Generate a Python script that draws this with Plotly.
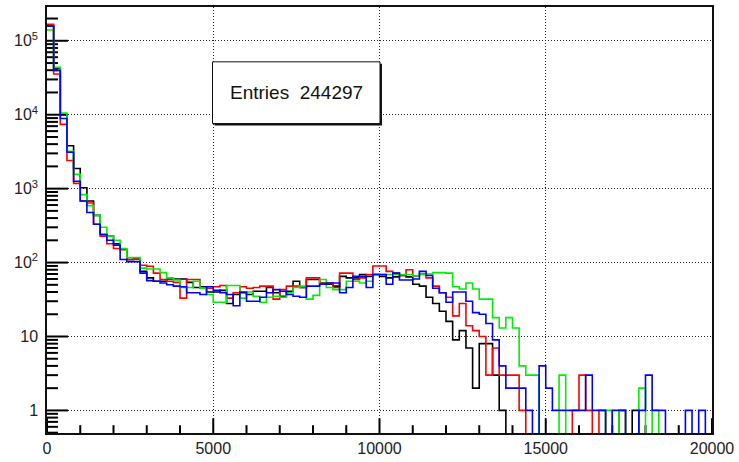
import numpy as np
import plotly.graph_objects as go

# Bin edges: 100 bins of width 200 from 0 to 20000
bin_edges = list(range(0, 20001, 200))

black_counts = [160000, 42000, 10000, 3800, 1870, 1030, 680, 435, 240, 228,
                180, 150, 110, 112, 76, 62, 56, 56, 60, 60,
                60, 54, 46, 47, 40, 40, 42, 28, 37, 39,
                37, 41, 41, 46, 39, 35, 41, 56, 46, 59,
                59, 53, 51, 48, 65, 62, 62, 69, 65, 69,
                65, 62, 64, 67, 64, 51, 48, 34, 28, 22,
                16, 9, 12, 7, 2, 8, 8, 3, 1, 0,
                0, 0, 0, 0, 0, 0, 0, 0, 0, 0,
                0, 0, 0, 0, 0, 0, 0, 0, 1, 0,
                0, 0, 0, 0, 0, 0, 0, 0, 0, 0]

red_counts = [167000, 35600, 7400, 2400, 1180, 680, 640, 330, 228, 180,
              155, 150, 110, 112, 92, 89, 72, 59, 56, 54,
              33, 59, 59, 45, 45, 47, 49, 33, 39, 47,
              45, 46, 48, 48, 32, 43, 48, 48, 46, 62,
              62, 53, 53, 46, 72, 72, 59, 62, 69, 90,
              90, 76, 72, 67, 80, 66, 70, 62, 48, 39,
              34, 19, 28, 14, 12, 10, 3, 7, 3, 3,
              3, 1, 0, 0, 0, 0, 0, 0, 0, 1,
              3, 1, 0, 1, 0, 0, 1, 0, 0, 0,
              0, 0, 0, 0, 0, 0, 0, 0, 0, 0]

green_counts = [140000, 43700, 10500, 3200, 1560, 830, 590, 435, 300, 228,
                200, 155, 117, 117, 84, 82, 82, 73, 62, 58,
                46, 46, 56, 45, 37, 29, 29, 49, 49, 33,
                40, 35, 29, 34, 35, 34, 39, 46, 48, 32,
                36, 59, 46, 43, 43, 56, 56, 53, 56, 69,
                69, 69, 69, 69, 69, 66, 69, 70, 73, 73,
                72, 47, 44, 53, 44, 32, 32, 18, 13, 18,
                13, 4, 3, 3, 0, 0, 0, 3, 0, 0,
                0, 0, 0, 0, 1, 0, 1, 0, 0, 2,
                0, 1, 0, 0, 0, 0, 0, 0, 0, 0]

blue_counts = [158000, 39700, 8900, 3100, 1260, 680, 475, 330, 240, 200,
               172, 110, 103, 103, 72, 57, 56, 53, 50, 48,
               47, 39, 39, 37, 47, 42, 39, 37, 26, 40,
               30, 30, 34, 39, 43, 41, 37, 35, 34, 48,
               48, 51, 53, 53, 39, 46, 65, 65, 46, 69,
               69, 51, 72, 58, 58, 60, 76, 67, 45, 39,
               29, 40, 40, 30, 21, 20, 15, 9, 4, 2,
               2, 2, 1, 0, 4, 2, 1, 1, 1, 1,
               1, 3, 1, 1, 0, 1, 1, 0, 0, 1,
               3, 1, 1, 0, 0, 0, 1, 0, 1, 0]

x_tickvals = [0, 5000, 10000, 15000, 20000]
x_ticktext = ["0", "5000", "10000", "15000", "20000"]
y_tickvals = [1, 10, 100, 1000, 10000, 100000]
y_ticktext = ["1", "10", "10<sup>2</sup>", "10<sup>3</sup>", "10<sup>4</sup>", "10<sup>5</sup>"]
entries_text = "Entries  244297"

W, H = 739, 462
L, R, T, B = 47, 25, 5, 22
pw, ph = W - L - R, H - T - B
Y_MIN, Y_MAX = np.log10(0.495), 5.457
X_MIN, X_MAX = 0, 20000

fig = go.Figure()

# ---- inside tick marks built from the axis scales ----
tx, ty = [], []
dec_per_px = (Y_MAX - Y_MIN) / ph
xu_per_px = (X_MAX - X_MIN) / pw
y_bottom = 10 ** Y_MIN
for xv in range(0, 20001, 1000):
    ln = 15 if xv % 5000 == 0 else 8
    tx += [float(xv), float(xv), None]
    ty += [float(y_bottom), float(10 ** (Y_MIN + ln * dec_per_px)), None]
for n in range(-1, 6):
    for k in range(1, 10):
        val = k * 10.0 ** n
        if not (Y_MIN <= np.log10(val) <= Y_MAX):
            continue
        ln = 21 if k == 1 else 11
        tx += [float(X_MIN), float(X_MIN + ln * xu_per_px), None]
        ty += [float(val), float(val), None]
fig.add_trace(go.Scatter(x=tx, y=ty, mode="lines", line=dict(color="#000000", width=2),
                         showlegend=False, hoverinfo="skip", connectgaps=False,
                         cliponaxis=False))

series = [("black", black_counts, "#000000"),
          ("red", red_counts, "#ff0000"),
          ("green", green_counts, "#00ee00"),
          ("blue", blue_counts, "#0000ff")]

for name, vals, col in series:
    v = np.array(vals, dtype=float)
    v = np.where(v > 0, v, 0.05)  # empty bins drop below the visible range
    y = list(v) + [v[-1]]
    fig.add_trace(go.Scatter(x=bin_edges, y=y, mode="lines", line_shape="hv",
                             line=dict(color=col, width=1.6), name=name,
                             showlegend=False, hoverinfo="skip"))

fig.update_layout(
    width=W, height=H,
    margin=dict(l=L, r=R, t=T, b=B, pad=0),
    paper_bgcolor="white", plot_bgcolor="white",
    font=dict(family="Liberation Sans, Arial, sans-serif", size=16, color="#111"),
    showlegend=False,
)

fig.update_xaxes(
    range=[X_MIN, X_MAX],
    tickmode="array", tickvals=x_tickvals, ticktext=x_ticktext,
    ticks="",
    showline=True, linecolor="#111", linewidth=1.5, mirror=True,
    showgrid=True, gridcolor="#222", griddash="1px,2px", gridwidth=1,
    zeroline=False, tickfont=dict(size=16, color="#222"),
)

fig.update_yaxes(
    type="log",
    range=[Y_MIN, Y_MAX],
    tickmode="array", tickvals=y_tickvals, ticktext=y_ticktext,
    ticks="",
    showline=True, linecolor="#111", linewidth=1.5, mirror=True,
    showgrid=True, gridcolor="#222", griddash="1px,2px", gridwidth=1,
    zeroline=False, tickfont=dict(size=16, color="#222"),
    ticklabelstandoff=4,
)

# Stats box (paper coordinates)
def px(xp):
    return (xp - L) / pw
def py(yp):
    return (H - B - yp) / ph

bx0, bx1, by0, by1 = 213, 381, 61, 124
fig.add_shape(type="rect", xref="paper", yref="paper",
              x0=px(bx0 + 2), x1=px(bx1 + 2), y0=py(by1 + 2), y1=py(by0 + 2),
              line=dict(width=0), fillcolor="#111", layer="above")
fig.add_shape(type="rect", xref="paper", yref="paper",
              x0=px(bx0), x1=px(bx1), y0=py(by1), y1=py(by0),
              line=dict(color="#111", width=1), fillcolor="white", layer="above")
fig.add_annotation(xref="paper", yref="paper", x=px((bx0 + bx1) / 2), y=py((by0 + by1) / 2),
                   text=entries_text, showarrow=False,
                   font=dict(size=19, color="#111", family="Liberation Sans, Arial, sans-serif"),
                   xanchor="center", yanchor="middle")

fig.write_html("out.html")
